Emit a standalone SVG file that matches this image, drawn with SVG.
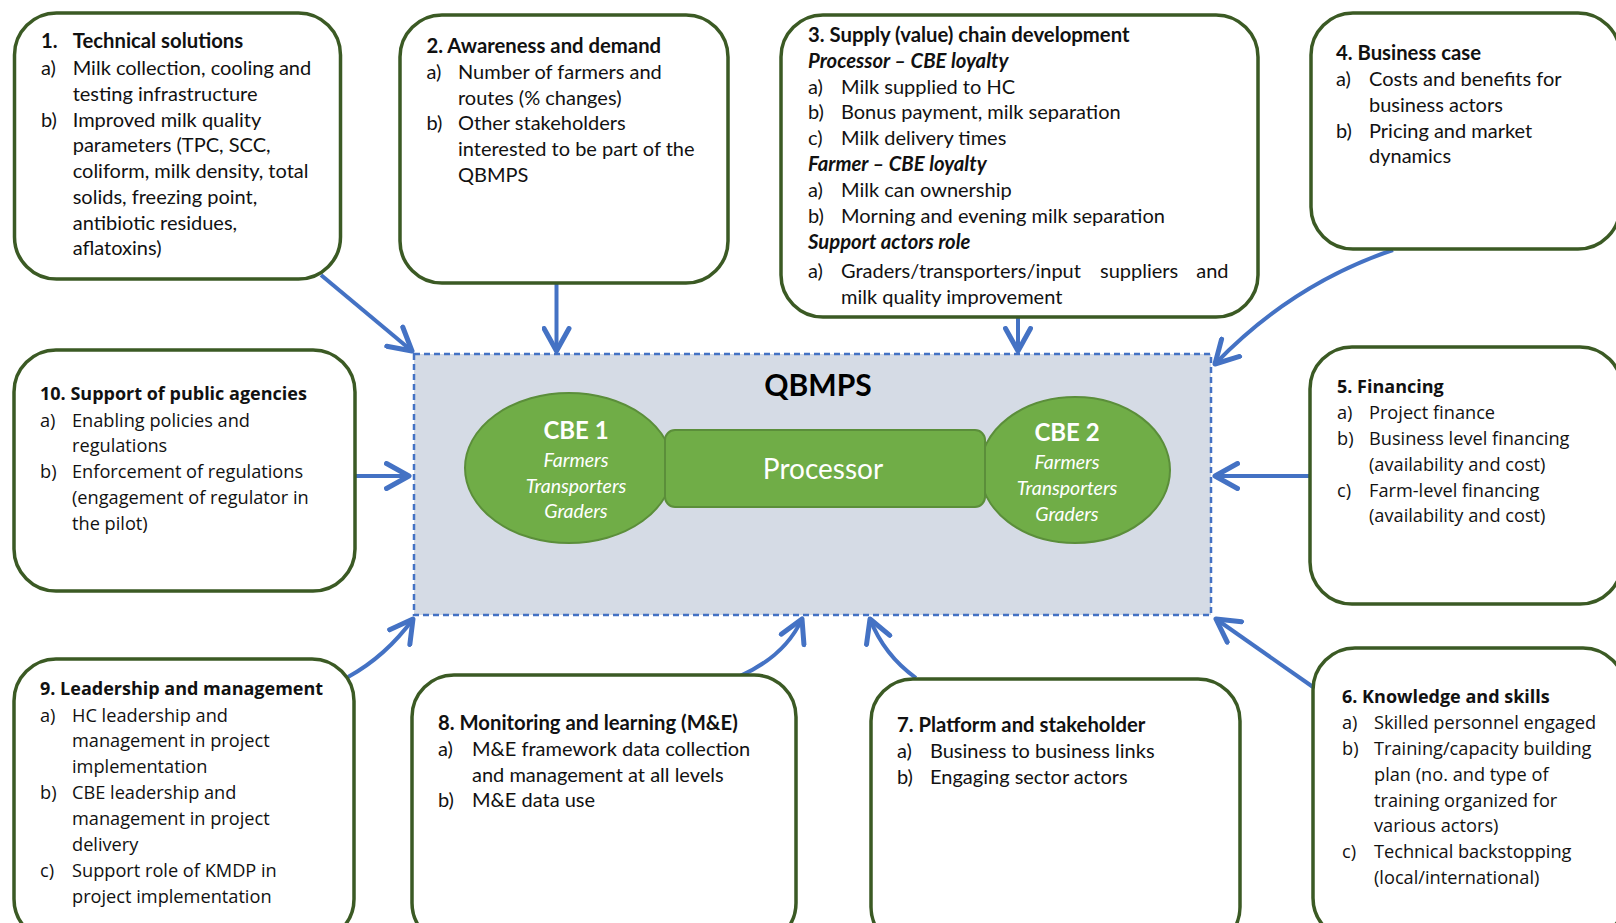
<svg xmlns="http://www.w3.org/2000/svg" width="1616" height="923" viewBox="0 0 1616 923">
<style>
.box{fill:#ffffff;stroke:#3b5a24;stroke-width:3.5}
.c{font-family:Lato,"Liberation Sans",sans-serif;font-size:20px;fill:#111}
.cb{font-family:Lato,"Liberation Sans",sans-serif;font-size:20.3px;font-weight:bold;fill:#111}
.cbi{font-family:Lato,"Liberation Sans",sans-serif;font-size:20.3px;font-weight:bold;font-style:italic;fill:#111}
.o{font-family:"Open Sans","DejaVu Sans",sans-serif;font-size:18.2px;fill:#111}
.ob{font-family:"Open Sans","DejaVu Sans",sans-serif;font-size:18px;font-weight:bold;fill:#111}
.arr{fill:none;stroke:#4472c4;stroke-width:4;marker-end:url(#ah)}
.green{fill:#70ad47;stroke:#5b8e3a;stroke-width:2}
.wt{font-family:Lato,"Liberation Sans",sans-serif;fill:#fff;text-anchor:middle}
</style>
<defs>
<marker id="ah" markerUnits="userSpaceOnUse" markerWidth="30" markerHeight="30" refX="20" refY="12" orient="auto" viewBox="0 0 24 24">
<polyline points="2,2 20,12 2,22" fill="none" stroke="#4472c4" stroke-width="4" stroke-linecap="round" stroke-linejoin="round"/>
</marker>
</defs>
<rect width="1616" height="923" fill="#ffffff"/>

<g id="qbmps">
<rect x="414" y="354" width="797" height="261" fill="#d5dbe5" stroke="#4472c4" stroke-width="2.5" stroke-dasharray="6,4"/>
<text x="818" y="396" font-family="Lato,'Liberation Sans',sans-serif" font-size="30" font-weight="bold" fill="#000" text-anchor="middle">QBMPS</text>
</g>
<g id="cbe1">
<ellipse class="green" cx="569" cy="468" rx="104" ry="75"/>
</g>
<g id="cbe2">
<ellipse class="green" cx="1075" cy="470" rx="95" ry="73"/>
</g>
<g id="processor">
<rect class="green" x="665" y="430" width="320" height="77" rx="10"/>
<text class="wt" x="823" y="479" font-size="28">Processor</text>
</g>
<g id="cbe1-text">
<text class="wt" x="576" y="439" font-size="24" font-weight="bold">CBE 1</text>
<text class="wt" x="576" y="467" font-size="19.5" font-style="italic">Farmers</text>
<text class="wt" x="576" y="493" font-size="19.5" font-style="italic">Transporters</text>
<text class="wt" x="576" y="518" font-size="19.5" font-style="italic">Graders</text>
</g>
<g id="cbe2-text">
<text class="wt" x="1067" y="441" font-size="24" font-weight="bold">CBE 2</text>
<text class="wt" x="1067" y="469" font-size="19.5" font-style="italic">Farmers</text>
<text class="wt" x="1067" y="495" font-size="19.5" font-style="italic">Transporters</text>
<text class="wt" x="1067" y="521" font-size="19.5" font-style="italic">Graders</text>
</g>

<g id="connectors">
<path class="arr" d="M321,275 L412,351"/>
<path class="arr" d="M556.5,283 L556.5,351"/>
<path class="arr" d="M1018,317 L1018,351"/>
<path class="arr" d="M1393,250 Q1292,284 1215,364"/>
<path class="arr" d="M355,476 L409,476"/>
<path class="arr" d="M1310,476 L1215,476"/>
<path class="arr" d="M348,677 Q386,656 413,619"/>
<path class="arr" d="M740,676 Q785,656 802,619"/>
<path class="arr" d="M916,678 Q884,655 870,619"/>
<path class="arr" d="M1313,687 L1216,619"/>
</g>

<g id="box1">
<rect class="box" x="14.5" y="13" width="326" height="266" rx="42"/>
<text class="cb" x="41" y="48">1.</text><text class="cb" x="72.7" y="48">Technical solutions</text>
<text class="c" x="41" y="75">a)</text><text class="c" x="72.7" y="75">Milk collection, cooling and</text>
<text class="c" x="72.7" y="100.5">testing infrastructure</text>
<text class="c" x="41" y="126.5">b)</text><text class="c" x="72.7" y="126.5">Improved milk quality</text>
<text class="c" x="72.7" y="152">parameters (TPC, SCC,</text>
<text class="c" x="72.7" y="178">coliform, milk density, total</text>
<text class="c" x="72.7" y="203.5">solids, freezing point,</text>
<text class="c" x="72.7" y="229.5">antibiotic residues,</text>
<text class="c" x="72.7" y="255">aflatoxins)</text>
</g>

<g id="box2">
<rect class="box" x="400" y="15" width="328" height="268" rx="42"/>
<text class="cb" x="426.5" y="52.5">2. Awareness and demand</text>
<text class="c" x="426.5" y="79">a)</text><text class="c" x="458" y="79">Number of farmers and</text>
<text class="c" x="458" y="104.5">routes (% changes)</text>
<text class="c" x="426.5" y="130">b)</text><text class="c" x="458" y="130">Other stakeholders</text>
<text class="c" x="458" y="156">interested to be part of the</text>
<text class="c" x="458" y="181.5">QBMPS</text>
</g>

<g id="box3">
<rect class="box" x="781" y="15" width="477" height="302" rx="42"/>
<text class="cb" x="808" y="42">3. Supply (value) chain development</text>
<text class="cbi" x="808" y="68">Processor – CBE loyalty</text>
<text class="c" x="808" y="93.5">a)</text><text class="c" x="841" y="93.5">Milk supplied to HC</text>
<text class="c" x="808" y="119">b)</text><text class="c" x="841" y="119">Bonus payment, milk separation</text>
<text class="c" x="808" y="145">c)</text><text class="c" x="841" y="145">Milk delivery times</text>
<text class="cbi" x="808" y="171">Farmer – CBE loyalty</text>
<text class="c" x="808" y="197">a)</text><text class="c" x="841" y="197">Milk can ownership</text>
<text class="c" x="808" y="223">b)</text><text class="c" x="841" y="223">Morning and evening milk separation</text>
<text class="cbi" x="808" y="249">Support actors role</text>
<text class="c" x="808" y="278">a)</text><text class="c" x="841" y="278">Graders/transporters/input</text><text class="c" x="1100" y="278">suppliers</text><text class="c" x="1228.5" y="278" text-anchor="end">and</text>
<text class="c" x="841" y="304">milk quality improvement</text>
</g>

<g id="box4">
<rect class="box" x="1311" y="13" width="309" height="236" rx="42"/>
<text class="cb" x="1336" y="60">4. Business case</text>
<text class="c" x="1336" y="86">a)</text><text class="c" x="1369" y="86">Costs and benefits for</text>
<text class="c" x="1369" y="112">business actors</text>
<text class="c" x="1336" y="137.5">b)</text><text class="c" x="1369" y="137.5">Pricing and market</text>
<text class="c" x="1369" y="163">dynamics</text>
</g>

<g id="box5">
<rect class="box" x="1310" y="347" width="312" height="257" rx="42"/>
<text class="ob" x="1337" y="392.5">5. Financing</text>
<text class="o" x="1337" y="419">a)</text><text class="o" x="1369" y="419">Project finance</text>
<text class="o" x="1337" y="445">b)</text><text class="o" x="1369" y="445">Business level financing</text>
<text class="o" x="1369" y="471">(availability and cost)</text>
<text class="o" x="1337" y="496.5">c)</text><text class="o" x="1369" y="496.5">Farm-level financing</text>
<text class="o" x="1369" y="522">(availability and cost)</text>
</g>

<g id="box6">
<rect class="box" x="1313" y="648" width="312" height="292" rx="42"/>
<text class="ob" x="1342" y="702.5">6. Knowledge and skills</text>
<text class="o" x="1342" y="729">a)</text><text class="o" x="1374" y="729">Skilled personnel engaged</text>
<text class="o" x="1342" y="754.5">b)</text><text class="o" x="1374" y="754.5">Training/capacity building</text>
<text class="o" x="1374" y="781">plan (no. and type of</text>
<text class="o" x="1374" y="806.5">training organized for</text>
<text class="o" x="1374" y="832">various actors)</text>
<text class="o" x="1342" y="858">c)</text><text class="o" x="1374" y="858">Technical backstopping</text>
<text class="o" x="1374" y="884">(local/international)</text>
</g>

<g id="box7">
<rect class="box" x="871" y="679" width="369" height="270" rx="42"/>
<text class="cb" x="897" y="732">7. Platform and stakeholder</text>
<text class="c" x="897" y="758">a)</text><text class="c" x="930" y="758">Business to business links</text>
<text class="c" x="897" y="784">b)</text><text class="c" x="930" y="784">Engaging sector actors</text>
</g>

<g id="box8">
<rect class="box" x="412" y="675" width="384" height="270" rx="42"/>
<text class="cb" x="438" y="730">8. Monitoring and learning (M&amp;E)</text>
<text class="c" x="438" y="756">a)</text><text class="c" x="472" y="756">M&amp;E framework data collection</text>
<text class="c" x="472" y="781.5">and management at all levels</text>
<text class="c" x="438" y="807">b)</text><text class="c" x="472" y="807">M&amp;E data use</text>
</g>

<g id="box9">
<rect class="box" x="14" y="659" width="340" height="282" rx="42"/>
<text class="ob" x="40" y="695">9. Leadership and management</text>
<text class="o" x="40" y="721.5">a)</text><text class="o" x="72" y="721.5">HC leadership and</text>
<text class="o" x="72" y="747">management in project</text>
<text class="o" x="72" y="773">implementation</text>
<text class="o" x="40" y="799">b)</text><text class="o" x="72" y="799">CBE leadership and</text>
<text class="o" x="72" y="825">management in project</text>
<text class="o" x="72" y="851">delivery</text>
<text class="o" x="40" y="877">c)</text><text class="o" x="72" y="877">Support role of KMDP in</text>
<text class="o" x="72" y="903">project implementation</text>
</g>

<g id="box10">
<rect class="box" x="14" y="350" width="341" height="241" rx="42"/>
<text class="ob" x="40" y="400">10. Support of public agencies</text>
<text class="o" x="40" y="426.5">a)</text><text class="o" x="72" y="426.5">Enabling policies and</text>
<text class="o" x="72" y="452">regulations</text>
<text class="o" x="40" y="478">b)</text><text class="o" x="72" y="478">Enforcement of regulations</text>
<text class="o" x="72" y="504">(engagement of regulator in</text>
<text class="o" x="72" y="530">the pilot)</text>
</g>
</svg>
